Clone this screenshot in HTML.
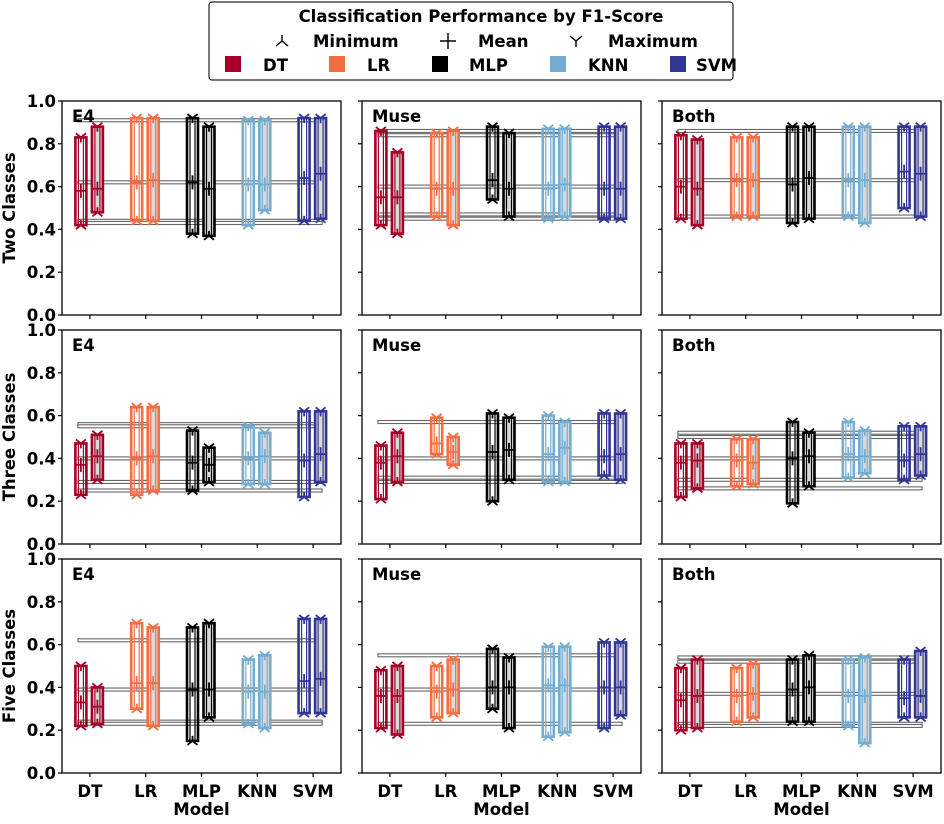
<!DOCTYPE html>
<html><head><meta charset="utf-8">
<style>
body{margin:0;background:#fff;}
svg text{font-family:"DejaVu Sans","Liberation Sans",sans-serif;font-weight:bold;fill:#000;}
</style></head>
<body>
<svg id="chart" width="944" height="819" viewBox="0 0 944 819" xmlns="http://www.w3.org/2000/svg">
<g id="legend">
  <rect x="209" y="2" width="524" height="78" rx="3" fill="#fff" stroke="#222" stroke-width="1.2"/>
  <text x="481" y="22" font-size="16.5" text-anchor="middle">Classification Performance by F1-Score</text>
  <g>
    <path d="M282,41 L282,35 M282,41 L276,46 M282,41 L288,46" stroke="#000" stroke-width="1.4" fill="none"/>
    <text x="313" y="47" font-size="16.5">Minimum</text>
  </g>
  <g>
    <path d="M440,41 L456,41 M448,33 L448,49" stroke="#000" stroke-width="1.4"/>
    <text x="478" y="47" font-size="16.5">Mean</text>
  </g>
  <g>
    <path d="M576,41 L576,47 M576,41 L570,36 M576,41 L582,36" stroke="#000" stroke-width="1.4" fill="none"/>
    <text x="608" y="47" font-size="16.5">Maximum</text>
  </g>
  <g><rect x="225" y="56" width="16" height="16" fill="#a50026"/><text x="263" y="71" font-size="16.5">DT</text></g>
  <g><rect x="329" y="56" width="16" height="16" fill="#f46d43"/><text x="367" y="71" font-size="16.5">LR</text></g>
  <g><rect x="432" y="56" width="16" height="16" fill="#000"/><text x="469" y="71" font-size="16.5">MLP</text></g>
  <g><rect x="550" y="56" width="16" height="16" fill="#74add1"/><text x="588" y="71" font-size="16.5">KNN</text></g>
  <g><rect x="670" y="56" width="16" height="16" fill="#313695"/><text x="696" y="71" font-size="16.5">SVM</text></g>
</g>
<g id="panels"></g>
</svg>
<script>
const models = ["DT","LR","MLP","KNN","SVM"];
const colors = ["#a50026","#f46d43","#000000","#74add1","#313695"];
const rowLabels = ["Two Classes","Three Classes","Five Classes"];
const colLabels = ["E4","Muse","Both"];
const yTicks = ["0.0","0.2","0.4","0.6","0.8","1.0"];
// [min, mean, max] per model: pairs (white box, gray box)
const twoE4   = [[0.42,0.58,0.83],[0.48,0.59,0.88],[0.44,0.62,0.92],[0.44,0.63,0.92],[0.38,0.62,0.92],[0.37,0.59,0.88],[0.42,0.61,0.91],[0.49,0.61,0.91],[0.44,0.64,0.92],[0.45,0.66,0.92]];
const twoMuse = [[0.42,0.55,0.86],[0.38,0.55,0.76],[0.46,0.59,0.85],[0.42,0.59,0.86],[0.54,0.63,0.88],[0.46,0.59,0.85],[0.45,0.59,0.87],[0.46,0.61,0.87],[0.45,0.59,0.88],[0.45,0.59,0.88]];
const twoBoth = [[0.45,0.60,0.84],[0.42,0.59,0.82],[0.46,0.63,0.83],[0.46,0.63,0.83],[0.43,0.61,0.88],[0.45,0.64,0.88],[0.46,0.63,0.88],[0.43,0.63,0.88],[0.50,0.67,0.88],[0.46,0.66,0.88]];
const threeE4   = [[0.23,0.37,0.47],[0.30,0.41,0.51],[0.23,0.40,0.64],[0.25,0.41,0.64],[0.25,0.38,0.53],[0.29,0.37,0.45],[0.28,0.40,0.55],[0.28,0.41,0.52],[0.22,0.39,0.62],[0.29,0.42,0.62]];
const threeMuse = [[0.21,0.38,0.46],[0.29,0.41,0.52],[0.42,0.47,0.59],[0.37,0.43,0.50],[0.20,0.43,0.61],[0.30,0.44,0.59],[0.29,0.42,0.60],[0.29,0.45,0.57],[0.32,0.41,0.61],[0.30,0.42,0.61]];
const threeBoth = [[0.22,0.38,0.47],[0.26,0.39,0.47],[0.27,0.39,0.49],[0.28,0.38,0.49],[0.19,0.40,0.57],[0.27,0.41,0.52],[0.31,0.42,0.57],[0.33,0.41,0.53],[0.30,0.39,0.55],[0.32,0.42,0.55]];
const fiveE4   = [[0.22,0.33,0.50],[0.23,0.31,0.40],[0.30,0.42,0.70],[0.22,0.42,0.68],[0.15,0.39,0.68],[0.26,0.39,0.70],[0.23,0.38,0.53],[0.21,0.38,0.55],[0.28,0.43,0.72],[0.28,0.44,0.72]];
const fiveMuse = [[0.21,0.36,0.48],[0.18,0.36,0.50],[0.26,0.38,0.50],[0.28,0.39,0.53],[0.30,0.40,0.58],[0.21,0.40,0.54],[0.17,0.41,0.59],[0.19,0.41,0.59],[0.21,0.40,0.61],[0.27,0.40,0.61]];
const fiveBoth = [[0.20,0.34,0.49],[0.21,0.36,0.53],[0.24,0.36,0.49],[0.26,0.37,0.51],[0.24,0.39,0.53],[0.24,0.40,0.55],[0.22,0.36,0.53],[0.14,0.36,0.54],[0.26,0.35,0.53],[0.26,0.36,0.57]];
// horizontal reference lines per panel
const refTwoE4 = [0.91,0.62,0.44,0.43];
const refTwoMuse = [0.86,0.84,0.60,0.47,0.45];
const refTwoBoth = [0.86,0.63,0.46];
const refThreeE4 = [0.56,0.55,0.40,0.29,0.25];
const refThreeMuse = [0.57,0.40,0.31,0.29];
const refThreeBoth = [0.52,0.50,0.40,0.30,0.26];
const refFiveE4 = [0.62,0.39,0.24,0.23];
const refFiveMuse = [0.55,0.39,0.23];
const refFiveBoth = [0.54,0.52,0.37,0.23,0.22];

const panelData = [[twoE4,twoMuse,twoBoth],[threeE4,threeMuse,threeBoth],[fiveE4,fiveMuse,fiveBoth]];
const panelRefs = [[refTwoE4,refTwoMuse,refTwoBoth],[refThreeE4,refThreeMuse,refThreeBoth],[refFiveE4,refFiveMuse,refFiveBoth]];

const NS="http://www.w3.org/2000/svg";
const root=document.getElementById('panels');
const colX=[62,362,662], rowY=[101,330,559], PW=279, PH=214;
function mk(tag,attrs,parent){const e=document.createElementNS(NS,tag);for(const k in attrs)e.setAttribute(k,attrs[k]);(parent||root).appendChild(e);return e;}

for(let r=0;r<3;r++){for(let c=0;c<3;c++){
  const x0=colX[c], y0=rowY[r];
  const xs=i=>x0+(i+0.5)*PW/5;
  const ys=v=>y0+PH-v*PH;
  const g=mk('g',{});
  
  
  panelRefs[r][c].forEach((v,k)=>{
    const l=mk('rect',{x:xs(0)-12,y:ys(v)-1.5,width:xs(4)-xs(0)+21,height:3,fill:'#fff',stroke:'#666','stroke-width':1.1},g);
    
    
  });
  panelData[r][c].forEach((d,k)=>{
    const m=Math.floor(k/2), second=k%2;
    const cx=xs(m)+(second?7.5:-9), col=colors[m];
    const bg=mk('g',{},g);
    
    
    const yt=ys(d[2]), yb=ys(d[0]), ym=ys(d[1]);
    mk('rect',{x:cx-5.5,y:yt,width:11,height:yb-yt,fill:second?'#d9d9d9':'none',stroke:col,'stroke-width':2.6},bg);
    mk('line',{x1:cx-2.5,x2:cx-2.5,y1:yt,y2:yb,stroke:col,'stroke-width':1.2},bg);
    mk('line',{x1:cx+2.5,x2:cx+2.5,y1:yt,y2:yb,stroke:col,'stroke-width':1.2},bg);
    mk('path',{d:`M${cx},${yt} L${cx},${yt+5} M${cx},${yt} L${cx-5},${yt-4} M${cx},${yt} L${cx+5},${yt-4}`,stroke:col,'stroke-width':1.8,fill:'none'},bg);
    mk('path',{d:`M${cx},${yb} L${cx},${yb-5} M${cx},${yb} L${cx-5},${yb+4} M${cx},${yb} L${cx+5},${yb+4}`,stroke:col,'stroke-width':1.8,fill:'none'},bg);
    mk('path',{d:`M${cx-6},${ym} L${cx+6},${ym} M${cx},${ym-7} L${cx},${ym+7}`,stroke:col,'stroke-width':1.8},bg);
  });
  mk('rect',{x:x0,y:y0,width:PW,height:PH,fill:'none',stroke:'#000','stroke-width':1.3},g);
  const t=mk('text',{x:x0+10,y:y0+21,'font-size':16.5},g);t.textContent=colLabels[c];
  
  
  yTicks.forEach((lab,i)=>{
    const v=parseFloat(lab);
    mk('line',{x1:x0-4,x2:x0,y1:ys(v),y2:ys(v),stroke:'#000','stroke-width':1.2},g);
    if(c===0){const tt=mk('text',{x:x0-6,y:ys(v)+6,'font-size':16.5,'text-anchor':'end'},g);tt.textContent=lab;
      
      }
  });
  models.forEach((mo,i)=>{
    mk('line',{x1:xs(i),x2:xs(i),y1:y0+PH,y2:y0+PH+4,stroke:'#000','stroke-width':1.2},g);
    if(r===2){const tt=mk('text',{x:xs(i),y:y0+PH+24,'font-size':16.5,'text-anchor':'middle'},g);tt.textContent=mo;
      
      }
  });
  if(r===2){const xl=mk('text',{x:x0+PW/2,y:815,'font-size':16.5,'text-anchor':'middle'},g);xl.textContent='Model';
    
    }
  if(c===0){const yl=mk('text',{x:0,y:0,'font-size':16.5,'text-anchor':'middle',transform:`translate(15,${y0+PH/2}) rotate(-90)`},g);yl.textContent=rowLabels[r];
    
    }
}}
</script>
</body></html>
